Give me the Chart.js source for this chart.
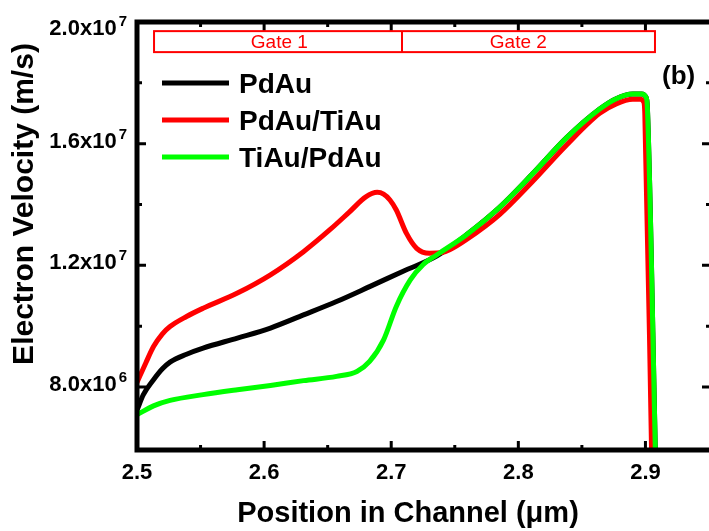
<!DOCTYPE html>
<html>
<head>
<meta charset="utf-8">
<script src="https://cdn.jsdelivr.net/npm/chart.js@4.4.0/dist/chart.umd.min.js"></script>
<style>
  html, body { margin: 0; padding: 0; background: #fff; }
  #chart { display: block; }
</style>
</head>
<body>
<canvas id="chart" width="709" height="531"></canvas>
<script>
const FONT = '"Liberation Sans", Arial, Helvetica, sans-serif';

// series
const seriesLabels = ['PdAu', 'PdAu/TiAu', 'TiAu/PdAu'];
const seriesColors = ['#000000', '#ff0000', '#00ff00'];

const pdAuX = [2.500, 2.505, 2.513, 2.520, 2.526, 2.539, 2.552, 2.579, 2.605, 2.631, 2.657, 2.683, 2.709, 2.736,
  2.759, 2.785, 2.811, 2.838, 2.864, 2.877, 2.890, 2.897, 2.9005, 2.9015, 2.908];
const pdAuY = [7.24e6, 7.75e6, 8.24e6, 8.6e6, 8.82e6, 9.08e6, 9.28e6, 9.61e6, 9.94e6, 1.037e7, 1.081e7, 1.130e7, 1.180e7, 1.231e7,
  1.300e7, 1.390e7, 1.500e7, 1.620e7, 1.714e7, 1.748e7, 1.763e7, 1.763e7, 1.752e7, 1.72e7, 5.5e6];

const pdTiX = [2.500, 2.507, 2.513, 2.520, 2.526, 2.539, 2.552, 2.579, 2.605, 2.631, 2.652, 2.667, 2.680, 2.689, 2.694, 2.699, 2.704,
  2.712, 2.720, 2.730, 2.740, 2.746, 2.759, 2.785, 2.811, 2.838, 2.864, 2.877, 2.890, 2.896, 2.8985, 2.8995, 2.905];
const pdTiY = [8.15e6, 8.8e6, 9.33e6, 9.75e6, 9.99e6, 1.032e7, 1.059e7, 1.109e7, 1.169e7, 1.245e7, 1.318e7, 1.375e7, 1.425e7, 1.440e7, 1.434e7, 1.415e7, 1.382e7,
  1.305e7, 1.256e7, 1.240e7, 1.242e7, 1.251e7, 1.284e7, 1.366e7, 1.475e7, 1.596e7, 1.700e7, 1.731e7, 1.746e7, 1.746e7, 1.738e7, 1.70e7, 5.5e6];

const tiPdX = [2.500, 2.513, 2.526, 2.552, 2.579, 2.605, 2.631, 2.657, 2.673, 2.683, 2.694, 2.704, 2.715, 2.725, 2.736,
  2.759, 2.785, 2.811, 2.838, 2.864, 2.877, 2.890, 2.897, 2.9005, 2.9015, 2.908];
const tiPdY = [7.09e6, 7.38e6, 7.56e6, 7.75e6, 7.91e6, 8.05e6, 8.21e6, 8.35e6, 8.51e6, 8.84e6, 9.55e6, 1.065e7, 1.152e7, 1.202e7, 1.235e7,
  1.300e7, 1.390e7, 1.500e7, 1.620e7, 1.714e7, 1.748e7, 1.763e7, 1.763e7, 1.752e7, 1.72e7, 5.5e6];

// axes
const xMin = 2.5, xMax = 2.95;
const yMin = 5.93e6, yMax = 2.0e7;
const xMajorTicks = [2.5, 2.6, 2.7, 2.8, 2.9];
const xTickLabels = ['2.5', '2.6', '2.7', '2.8', '2.9'];
const xMinorTicks = [2.55, 2.65, 2.75, 2.85];
const yMajorTicks = [8.0e6, 1.2e7, 1.6e7, 2.0e7];
const yTickMantissa = ['8.0', '1.2', '1.6', '2.0'];
const yTickExponent = ['6', '7', '7', '7'];
const yMinorTicks = [1.0e7, 1.4e7, 1.8e7];
const xTitle = 'Position in Channel (\u03bcm)';
const yTitle = 'Electron Velocity (m/s)';
const panelTag = '(b)';

// gate boxes
const gateEdges = [2.5134, 2.7085, 2.9075];
const gateLow = 1.901e7, gateHigh = 1.970e7;
const gateNames = ['Gate 1', 'Gate 2'];
const gateLabelX = [2.612, 2.800];

const toPoints = (xs, ys) => xs.map((x, i) => ({ x: x, y: ys[i] }));

const decorations = {
  id: 'decorations',
  afterDraw(chart) {
    const ctx = chart.ctx;
    const area = chart.chartArea;
    const xs = chart.scales.x, ys = chart.scales.y;
    ctx.save();

    // frame
    ctx.strokeStyle = '#000';
    ctx.lineWidth = 5;
    ctx.lineCap = 'square';
    ctx.beginPath();
    ctx.moveTo(area.left, area.bottom);
    ctx.lineTo(area.left, area.top);
    ctx.lineTo(area.right + 5, area.top);
    ctx.moveTo(area.left, area.bottom);
    ctx.lineTo(area.right + 5, area.bottom);
    ctx.stroke();

    // inward ticks on all sides
    ctx.lineWidth = 3;
    ctx.lineCap = 'butt';
    const xTick = (v, len) => {
      const px = xs.getPixelForValue(v);
      ctx.beginPath();
      ctx.moveTo(px, area.bottom); ctx.lineTo(px, area.bottom - len);
      ctx.moveTo(px, area.top); ctx.lineTo(px, area.top + len);
      ctx.stroke();
    };
    const yTick = (v, len) => {
      const py = ys.getPixelForValue(v);
      ctx.beginPath();
      ctx.moveTo(area.left, py); ctx.lineTo(area.left + len, py);
      ctx.moveTo(area.right, py); ctx.lineTo(area.right - len + 2, py);
      ctx.stroke();
    };
    xMajorTicks.slice(1).forEach(v => xTick(v, 9));
    xMinorTicks.forEach(v => xTick(v, 5));
    yMajorTicks.forEach(v => yTick(v, 9));
    yMinorTicks.forEach(v => yTick(v, 5));

    // y tick labels with superscript exponents
    ctx.fillStyle = '#000';
    yMajorTicks.forEach((v, i) => {
      const cy = Math.max(ys.getPixelForValue(v) - 2, 29);
      ctx.font = 'bold 15px ' + FONT;
      const supW = ctx.measureText(yTickExponent[i]).width;
      ctx.textAlign = 'left';
      ctx.textBaseline = 'alphabetic';
      ctx.fillText(yTickExponent[i], 127 - supW, cy - 3);
      ctx.font = 'bold 22px ' + FONT;
      ctx.textAlign = 'right';
      ctx.textBaseline = 'middle';
      ctx.fillText(yTickMantissa[i] + 'x10', 125 - supW, cy);
    });

    // axis titles
    ctx.font = 'bold 29px ' + FONT;
    ctx.textAlign = 'center';
    ctx.textBaseline = 'alphabetic';
    ctx.fillText(xTitle, 408, 522);
    ctx.save();
    ctx.font = 'bold 30px ' + FONT;
    ctx.translate(33, 204);
    ctx.rotate(-Math.PI / 2);
    ctx.fillText(yTitle, 0, 0);
    ctx.restore();

    // gate boxes
    ctx.strokeStyle = '#ff0000';
    ctx.lineWidth = 2;
    const gy0 = ys.getPixelForValue(gateHigh), gy1 = ys.getPixelForValue(gateLow);
    ctx.strokeRect(xs.getPixelForValue(gateEdges[0]), gy0,
      xs.getPixelForValue(gateEdges[2]) - xs.getPixelForValue(gateEdges[0]), gy1 - gy0);
    ctx.beginPath();
    ctx.moveTo(xs.getPixelForValue(gateEdges[1]), gy0);
    ctx.lineTo(xs.getPixelForValue(gateEdges[1]), gy1);
    ctx.stroke();
    ctx.fillStyle = '#ff0000';
    ctx.font = '19px ' + FONT;
    ctx.textAlign = 'center';
    ctx.textBaseline = 'middle';
    gateNames.forEach((n, i) => ctx.fillText(n, xs.getPixelForValue(gateLabelX[i]), (gy0 + gy1) / 2 + 1));

    // legend
    const rows = [83, 120, 157];
    chart.data.datasets.forEach((ds, i) => {
      ctx.strokeStyle = ds.borderColor;
      ctx.lineWidth = 5;
      ctx.beginPath();
      ctx.moveTo(162, rows[i]);
      ctx.lineTo(229, rows[i]);
      ctx.stroke();
      ctx.fillStyle = '#000';
      ctx.font = 'bold 28px ' + FONT;
      ctx.textAlign = 'left';
      ctx.textBaseline = 'alphabetic';
      ctx.fillText(ds.label, 239, rows[i] + 10);
    });

    // panel tag
    ctx.font = 'bold 26px ' + FONT;
    ctx.fillText(panelTag, 662, 84);
    ctx.restore();
  }
};

new Chart(document.getElementById('chart'), {
  type: 'line',
  data: {
    datasets: [
      { label: seriesLabels[0], data: toPoints(pdAuX, pdAuY), borderColor: seriesColors[0], order: 3 },
      { label: seriesLabels[1], data: toPoints(pdTiX, pdTiY), borderColor: seriesColors[1], order: 2 },
      { label: seriesLabels[2], data: toPoints(tiPdX, tiPdY), borderColor: seriesColors[2], order: 1 }
    ]
  },
  options: {
    responsive: false,
    animation: false,
    devicePixelRatio: 1,
    layout: { padding: { top: 22, right: 0, left: 0, bottom: 0 } },
    elements: {
      point: { radius: 0 },
      line: { borderWidth: 5, fill: false, cubicInterpolationMode: 'monotone', borderJoinStyle: 'round' }
    },
    plugins: { legend: { display: false }, tooltip: { enabled: false } },
    scales: {
      x: {
        type: 'linear', min: xMin, max: xMax,
        afterBuildTicks: s => { s.ticks = xMajorTicks.map(v => ({ value: v })); },
        afterFit: s => { s.height = 81; },
        grid: { display: false, drawTicks: false },
        border: { display: false },
        ticks: {
          autoSkip: false, maxRotation: 0, padding: 10, color: '#000',
          font: { family: FONT, weight: 'bold', size: 22 },
          callback: v => { const i = xMajorTicks.findIndex(t => Math.abs(t - v) < 1e-6); return i >= 0 ? xTickLabels[i] : ''; }
        }
      },
      y: {
        type: 'linear', min: yMin, max: yMax,
        afterBuildTicks: s => { s.ticks = yMajorTicks.map(v => ({ value: v })); },
        afterFit: s => { s.width = 137; },
        grid: { display: false, drawTicks: false },
        border: { display: false },
        ticks: { callback: () => '' }
      }
    }
  },
  plugins: [decorations]
});
</script>
</body>
</html>
